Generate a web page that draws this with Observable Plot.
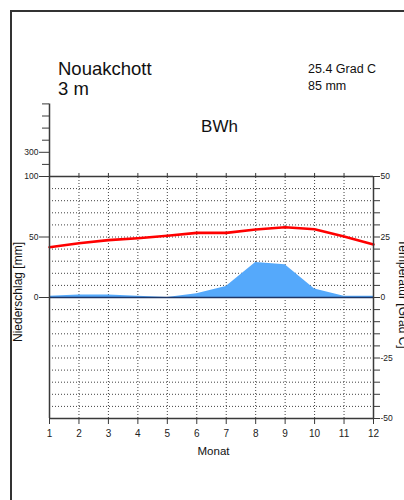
<!DOCTYPE html>
<html><head><meta charset="utf-8">
<script src="https://cdn.jsdelivr.net/npm/d3@7"></script>
<script src="https://cdn.jsdelivr.net/npm/@observablehq/plot@0.6"></script>
<style>
html,body{margin:0;padding:0;background:#fff;}
#wrap{position:relative;width:404px;height:500px;overflow:hidden;font-family:"Liberation Sans",Arial,sans-serif;}
#frame{position:absolute;left:10px;top:10px;width:420px;height:520px;border-top:2px solid #333;border-left:2px solid #333;pointer-events:none;}
#chart{position:absolute;left:0;top:0;}
</style></head><body>
<div id="wrap"><div id="chart"></div><div id="frame"></div></div>
<script>
// ---- data ----
const months = [1,2,3,4,5,6,7,8,9,10,11,12];
const precip = [1,2,2,1,0,3,9,29,27,7,1,1];            // mm
const temp   = [20.8,22.4,23.7,24.5,25.5,26.7,26.7,28.1,29.0,28.2,25.2,21.9]; // °C
const leftLabels  = [0,50,100,300];
const leftMinor   = [200,400,500,600,700];
const rightTicks  = [-50,-45,-40,-35,-30,-25,-20,-15,-10,-5,0,5,10,15,20,25,30,35,40,45,50];
const rightLabels = [-50,-25,0,25,50];
const station = "Nouakchott", elevation = "3 m", meanTemp = "25.4 Grad C", sumPrecip = "85 mm", climate = "BWh";

const data = months.map((m,i)=>({month:m, precip:precip[i], temp:temp[i]}));
// precipitation above 100 mm is drawn at 1/10 scale
const py = v => v > 100 ? 100 + (v-100)/10 : v;
const unpy = v => v > 100 ? Math.round(100 + (v-100)*10) : v;
const ink = "#3a3a3a";
const grid = {stroke:"#000", strokeDasharray:"1,2", strokeOpacity:0.75, strokeWidth:1};

const plot = Plot.plot({
  width:404, height:500,
  marginLeft:49, marginRight:31, marginTop:103, marginBottom:82,
  x:{domain:[1,12], range:[49,373]},
  y:{domain:[-100,py(700)], range:[418, 297 - py(700)*1.21]},
  style:{fontFamily:"'Liberation Sans', Arial, sans-serif", color:"#222", background:"transparent", overflow:"visible"},
  marks:[
    Plot.ruleY(d3.range(-90,100,10).filter(d=>d!==0), {x1:1, x2:12, ...grid}),
    Plot.ruleX(months.slice(1,-1), {y1:-100, y2:100, ...grid}),
    Plot.areaY(data, {x:"month", y:"precip", fill:"#55a9fb"}),
    Plot.ruleY([0], {x1:1, x2:12, stroke:"#1d3566", strokeWidth:1.5}),
    Plot.line(data, {x:"month", y:d=>d.temp*2, stroke:"#ff0000", strokeWidth:2.6}),
    Plot.ruleY([100,-100], {x1:1, x2:12, stroke:ink, strokeWidth:1.5}),
    Plot.ruleX([1], {y1:-100, y2:py(700), stroke:ink, strokeWidth:1.5}),
    Plot.ruleX([12], {y1:-100, y2:100, stroke:ink, strokeWidth:1.5}),
    Plot.ruleX(months.slice(1,-1), {y1:100, y2:102.5, stroke:ink}),
    Plot.axisX({anchor:"bottom", ticks:months, tickSize:6, tickPadding:5, fontSize:10, label:null, tickFormat:d=>d, stroke:ink}),
    Plot.axisY({anchor:"left", ticks:leftLabels.map(py), tickSize:10, tickPadding:1, fontSize:8.5, label:null, tickFormat:unpy, stroke:ink}),
    Plot.axisY({anchor:"left", ticks:leftMinor.map(py), tickSize:7, label:null, tickFormat:()=>"", stroke:ink}),
    Plot.axisY({anchor:"right", ticks:rightTicks.map(t=>t*2), tickSize:6, tickPadding:1, fontSize:8.5, label:null,
      tickFormat:d=>rightLabels.includes(d/2) ? String(d/2) : "", stroke:ink})
  ]
});
document.getElementById("chart").appendChild(plot);

const svg = d3.select(plot);
const add = (txt, x, y, size, anchor="start", rot=null) => {
  const t = svg.append("text").text(txt)
    .attr("font-size", size).attr("fill", "#111")
    .attr("font-family", "'Liberation Sans', Arial, sans-serif")
    .attr("text-anchor", anchor);
  if (rot === null) t.attr("x", x).attr("y", y);
  else t.attr("transform", `translate(${x},${y}) rotate(${rot})`);
  return t;
};
add(station, 58, 75, 18.5);
add(elevation, 58, 94.5, 18.5);
add(meanTemp, 308, 73, 12.5);
add(sumPrecip, 308, 90, 12.5);
add(climate, 219.5, 131.5, 17, "middle");
add("Monat", 213.5, 455, 11.5, "middle");
add("Niederschlag [mm]", 21.5, 292, 12, "middle", -90);
add("Temperatur [Grad C]", 399, 294, 12, "middle", 90);
</script>
</body></html>
